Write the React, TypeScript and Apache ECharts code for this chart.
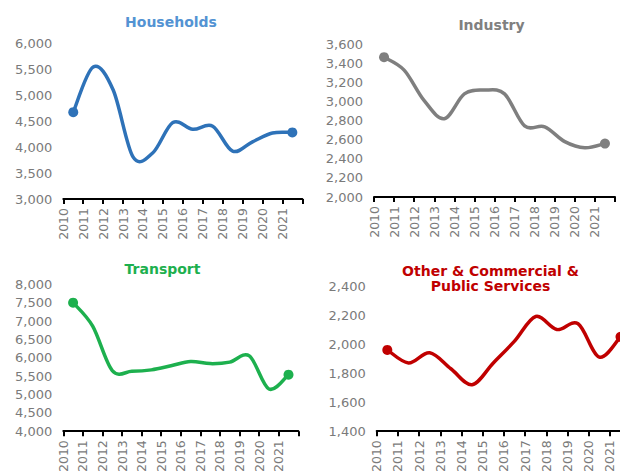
import { useEffect, useRef } from "react";
import * as echarts from "echarts";

const years = [2010, 2011, 2012, 2013, 2014, 2015, 2016, 2017, 2018, 2019, 2020, 2021];
const households = [4670, 5540, 5100, 3810, 3890, 4470, 4340, 4400, 3920, 4100, 4270, 4280];
const industry = [3465, 3330, 3010, 2820, 3080, 3120, 3080, 2745, 2735, 2580, 2515, 2560];
const transport = [7500, 6860, 5650, 5630, 5670, 5780, 5900, 5840, 5880, 6050, 5150, 5540];
const other = [1960, 1870, 1940, 1830, 1720, 1870, 2020, 2190, 2100, 2140, 1910, 2050];

const titles = ["Households", "Industry", "Transport", "Other & Commercial &\nPublic Services"];
const yRanges = [
  [3000, 6000, 500],
  [2000, 3600, 200],
  [4000, 8000, 500],
  [1400, 2400, 200],
];

const FONT = "DejaVu Sans";

function smoothPath(pts: number[][], t: number): string {
  if (!pts.length) return "";
  let d = `M${pts[0][0]},${pts[0][1]}`;
  for (let i = 0; i < pts.length - 1; i++) {
    const p0 = pts[Math.max(0, i - 1)];
    const p1 = pts[i];
    const p2 = pts[i + 1];
    const p3 = pts[Math.min(pts.length - 1, i + 2)];
    const c1x = p1[0] + (p2[0] - p0[0]) * t;
    const c1y = p1[1] + (p2[1] - p0[1]) * t;
    const c2x = p2[0] - (p3[0] - p1[0]) * t;
    const c2y = p2[1] - (p3[1] - p1[1]) * t;
    d += ` C${c1x},${c1y} ${c2x},${c2y} ${p2[0]},${p2[1]}`;
  }
  return d;
}

export default function App() {
  const ref = useRef<HTMLDivElement>(null);
  useEffect(() => {
    if (!ref.current) return;
    const chart = echarts.init(ref.current, null, { renderer: "svg" });
    const series = [households, industry, transport, other];
    const lineColors = ["#2e72b8", "#7f7f7f", "#1db04e", "#c00000"];
    const titleColors = ["#5393d3", "#808080", "#1db04e", "#c00000"];
    const grids = [
      { left: 63.3, top: 43, width: 239, height: 156 },
      { left: 374, top: 44.3, width: 241, height: 152.7 },
      { left: 63.3, top: 284.3, width: 235, height: 152.4 },
      { left: 376.7, top: 286, width: 254.4, height: 153.3 },
    ];
    const titlePos = [
      [171, 21.5],
      [491.5, 24.5],
      [162.5, 268.5],
      [490.5, 278],
    ];
    const option: any = {
      animation: false,
      grid: grids.map((g) => ({ ...g, containLabel: false })),
      xAxis: grids.map((_, i) => ({
        type: "value",
        gridIndex: i,
        min: 2010,
        max: 2022,
        interval: 1,
        splitLine: { show: false },
        axisLine: { show: true, onZero: false, lineStyle: { color: "#000", width: 2 } },
        axisTick: { show: true, length: 5, lineStyle: { color: "#000", width: 2 } },
        axisLabel: {
          rotate: 90,
          margin: 9,
          color: "#7a7a7a",
          fontFamily: FONT,
          fontSize: 12.5,
          padding: [7, 0, 0, 0],
          showMaxLabel: true,
          showMinLabel: true,
          formatter: (v: number) => (v >= 2022 ? "" : String(v)),
        },
      })),
      yAxis: grids.map((_, i) => ({
        type: "value",
        gridIndex: i,
        min: yRanges[i][0],
        max: yRanges[i][1],
        interval: yRanges[i][2],
        splitLine: { show: false },
        axisLine: { show: false },
        axisTick: { show: false },
        axisLabel: {
          margin: 11,
          color: "#7a7a7a",
          fontFamily: FONT,
          fontSize: 13,
          formatter: (v: number) => v.toLocaleString("en-US"),
        },
      })),
      series: series.map((vals, i) => {
        const data = vals.map((v, k) => [years[k] + 0.5, v]);
        return {
          type: "custom",
          xAxisIndex: i,
          yAxisIndex: i,
          coordinateSystem: "cartesian2d",
          encode: { x: 0, y: 1 },
          clip: false,
          data,
          renderItem: (params: any, api: any) => {
            if (params.dataIndex !== 0) return null;
            const pts = data.map((d) => api.coord(d));
            const first = pts[0];
            const last = pts[pts.length - 1];
            return {
              type: "group",
              children: [
                {
                  type: "path",
                  shape: { pathData: smoothPath(pts, 1 / 6) },
                  style: {
                    fill: "none",
                    stroke: lineColors[i],
                    lineWidth: 3.5,
                    lineCap: "round",
                    lineJoin: "round",
                  },
                },
                { type: "circle", shape: { cx: first[0], cy: first[1], r: 5 }, style: { fill: lineColors[i] } },
                { type: "circle", shape: { cx: last[0], cy: last[1], r: 5 }, style: { fill: lineColors[i] } },
              ],
            };
          },
        };
      }),
      graphic: titles.map((t, i) => ({
        type: "text",
        x: titlePos[i][0],
        y: titlePos[i][1],
        style: {
          text: t,
          fill: titleColors[i],
          font: `bold 14px "${FONT}"`,
          textAlign: "center",
          textVerticalAlign: "middle",
          lineHeight: 15,
        },
      })),
    };
    chart.setOption(option);
    return () => chart.dispose();
  }, []);
  return (
    <div
      ref={ref}
      style={{ position: "fixed", left: 0, top: 0, width: 640, height: 475, background: "#fff" }}
    />
  );
}
